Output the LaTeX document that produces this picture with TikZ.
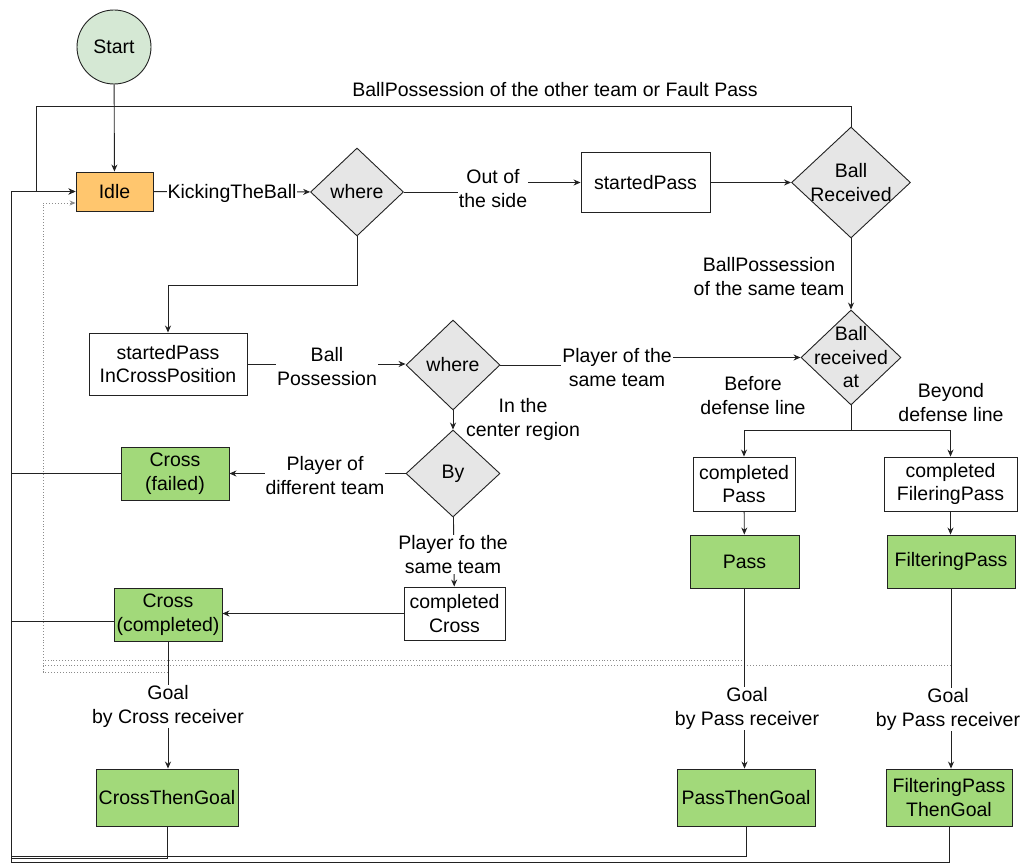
\documentclass[tikz,border=0pt]{standalone}
\usepackage{fontspec}
\setmainfont{Liberation Sans}
\usetikzlibrary{shapes.geometric,arrows.meta}
\definecolor{startgreen}{HTML}{D5E8D4}
\definecolor{idleor}{HTML}{FFC66E}
\definecolor{diagray}{HTML}{E6E6E6}
\definecolor{grn}{HTML}{A2D97A}
\definecolor{edgec}{HTML}{222222}
\tikzset{
 base/.style={font=\fontsize{19.5}{23.5}\selectfont, align=center, inner sep=0pt},
 st/.style={base, rectangle, draw=edgec, line width=0.9pt, fill=white},
 gbox/.style={st, fill=grn},
 dia/.style={base, diamond, draw=edgec, line width=0.9pt, fill=diagray},
 lbl/.style={base, fill=white, inner sep=1pt, yshift=-1.5pt},
 plain/.style={base, yshift=-1.5pt},
 edge/.style={draw=edgec, line width=0.9pt},
 arr/.style={edge, -{Stealth[length=7pt,width=6pt]}},
 dots/.style={draw=black!45, line width=0.9pt, dotted},
}
\begin{document}
\begin{tikzpicture}[x=1pt,y=-1pt]
\useasboundingbox (0,0) rectangle (1022,864);
% nodes
\node[st, circle, fill=startgreen, minimum size=74] (start) at (114,47) {Start};
\node[st, fill=idleor, minimum width=77, minimum height=39] (idle) at (114.5,191.5) {Idle};
\node[dia, minimum width=93, minimum height=88, label={[base]center:where}] (w1) at (357,192) {};
\node[st, minimum width=129, minimum height=60] (sp) at (645.5,182.5) {startedPass};
\node[dia, minimum width=119, minimum height=111, label={[base]center:Ball\\Received}] (br) at (851,182.5) {};
\node[dia, minimum width=100, minimum height=95, label={[base]center:Ball\\received\\at}] (ra) at (851,357.5) {};
\node[st, minimum width=158, minimum height=62] (spc) at (168,364) {startedPass\\InCrossPosition};
\node[dia, minimum width=94, minimum height=90, label={[base]center:where}] (w2) at (453,365) {};
\node[dia, minimum width=94, minimum height=87, label={[base]center:By}] (by) at (453,473.5) {};
\node[gbox, minimum width=108, minimum height=53] (cf) at (175,473.5) {Cross\\(failed)};
\node[st, minimum width=101, minimum height=53] (cc) at (454.5,613.5) {completed\\Cross};
\node[gbox, minimum width=108, minimum height=53] (ccm) at (168,614.5) {Cross\\(completed)};
\node[gbox, minimum width=142, minimum height=57] (ctg) at (167,797.5) {CrossThenGoal};
\node[st, minimum width=102, minimum height=54] (cp) at (744,484) {completed\\Pass};
\node[st, minimum width=133, minimum height=54] (cfp) at (950.5,484) {completed\\FileringPass};
\node[gbox, minimum width=109, minimum height=53] (pass) at (744.5,561.5) {Pass};
\node[gbox, minimum width=128, minimum height=53] (fp) at (951,561.5) {FilteringPass};
\node[gbox, minimum width=138, minimum height=57] (ptg) at (746,797.5) {PassThenGoal};
\node[gbox, minimum width=126, minimum height=57] (fptg) at (949,797.5) {FilteringPass\\ThenGoal};
% coordinates
\coordinate (L) at (11,191.5);
\coordinate (J) at (36,191.5);
\coordinate (D0) at (43,203);
\coordinate (D1) at (43,660);
\coordinate (D2) at (43,665);
\coordinate (D3) at (43,672);
% dotted returns
\draw[dots] (pass.south |- D1) -- (D1);
\draw[dots] (fp.south |- D2) -- (D2);
\draw[dots, -{Stealth[length=6pt,width=5pt]}] (ccm.south |- D3) -- (D3) -- (D0) -- (D0 -| idle.west);
% edges
\draw[arr] (start) -- (idle);
\draw[arr] (idle) -- (w1);
\draw[arr] (w1.east) -- ++(89,0) |- (sp.west);
\draw[arr] (sp) -- (br);
\draw[arr] (br.north) -- ++(0,-20) -| (J) -- (idle.west);
\draw[arr] (br) -- (ra);
\draw[arr] (w1.south) -- ++(0,49) -| (spc.north);
\draw[arr] (spc.east) -- (spc.east -| w2.west);
\draw[arr] (w2.east) -- ++(117,0) |- (ra.west);
\draw[arr] (w2) -- (by);
\draw[arr] (by) -- (cf);
\draw[arr] (by) -- (cc);
\draw[arr] (cc.west) -- (cc.west -| ccm.east);
\draw[arr] (ccm.south) -- (ccm.south |- ctg.north);
\draw[arr] (ra.south) -- ++(0,25) -| (cp.north);
\draw[arr] (ra.south) -- ++(0,25) -| (cfp.north);
\draw[arr] (cp) -- (pass);
\draw[arr] (cfp.south) -- (cfp.south |- fp.north);
\draw[arr] (pass.south) -- (pass.south |- ptg.north);
\draw[arr] (fp.south) -- (fp.south |- fptg.north);
% returns to Idle
\draw[edge] (cf.west) -- (cf.west -| L);
\draw[edge] ([yshift=-6.5pt]ccm.west) -- ([yshift=-6.5pt]ccm.west -| L);
\draw[edge] (ctg.south) -- ++(0,32) -| (L);
\draw[edge] (ptg.south) -- ++(0,30) -| (L);
\draw[arr] (fptg.south) -- ++(0,36) -| (L) -- (idle.west);
% labels
\node[lbl] (l1) at (232,192) {KickingTheBall};
\node[lbl] (l2) at (493,187) {Out of\\the side};
\node[plain] (l3) at (555,88) {BallPossession of the other team or Fault Pass};
\node[plain] (l4) at (769,275) {BallPossession\\of the same team};
\node[lbl] (l5) at (327,365) {Ball\\Possession};
\node[lbl] (l6) at (617,366) {Player of the\\same team};
\node[plain] (l7) at (523,418) {In the\\center region};
\node[lbl] (l8) at (325,474) {Player of\\different team};
\node[lbl] (l9) at (453,553) {Player fo the\\same team};
\node[plain] (l10) at (753,394) {Before\\defense line};
\node[plain] (l11) at (951,401) {Beyond\\defense line};
\node[lbl] (l12) at (168,705) {Goal\\by Cross receiver};
\node[lbl] (l13) at (747,707) {Goal\\by Pass receiver};
\node[lbl] (l14) at (948,708) {Goal\\by Pass receiver};
\end{tikzpicture}
\end{document}
